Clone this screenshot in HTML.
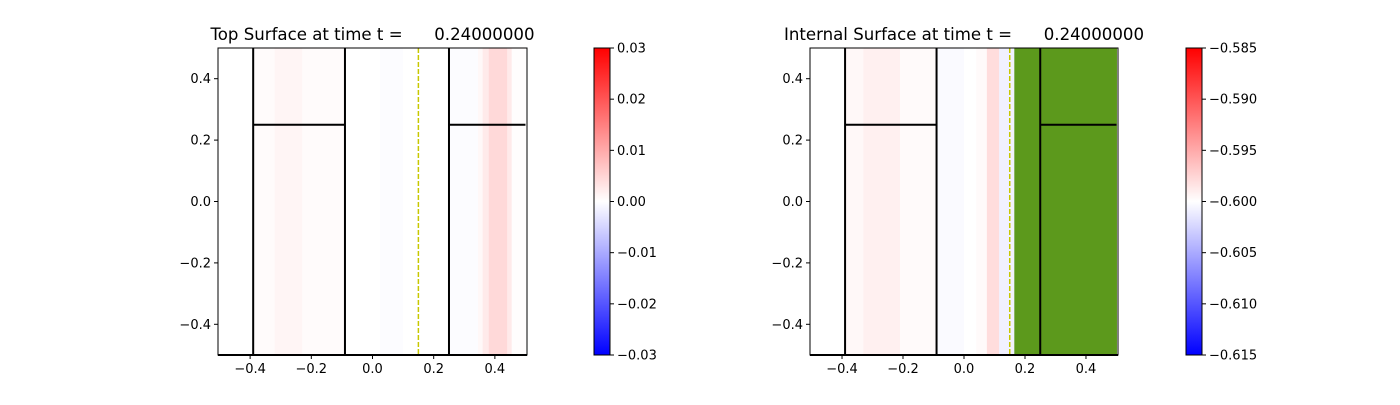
<!DOCTYPE html>
<html><head><meta charset="utf-8"><style>
body{margin:0;background:#fff;width:1400px;height:400px;overflow:hidden}
text{font-family:"DejaVu Sans","Liberation Sans",sans-serif;font-size:13px;fill:#000}
</style></head><body>
<svg id="chart" width="1400" height="400" xmlns="http://www.w3.org/2000/svg">
<defs>
<linearGradient id="bwr" x1="0" y1="1" x2="0" y2="0">
<stop offset="0" stop-color="#0000ff"/><stop offset="0.5" stop-color="#ffffff"/><stop offset="1" stop-color="#ff0000"/>
</linearGradient>
</defs>
</svg>
<script>
const xTicks=[-0.4,-0.2,0.0,0.2,0.4];
const yTicks=[0.4,0.2,0.0,-0.2,-0.4];
// strip boundaries (x) and values for each panel
const leftEdges=[-0.5,-0.39,-0.32,-0.23,-0.09,0.025,0.10,0.25,0.345,0.36,0.38,0.44,0.455,0.5];
const leftVals=[0,0.0005,0.0012,0.0005,0,-0.0004,0,-0.0003,0.0008,0.0025,0.0045,0.0025,0.0002];
const rightEdges=[-0.5,-0.39,-0.33,-0.21,-0.09,0.0,0.04,0.075,0.115,0.165,0.5];
const rightVals=[-0.6,-0.5996,-0.5991,-0.5997,-0.6003,-0.6,-0.5997,-0.5980,-0.6008,null];
const leftCb=[0.03,0.02,0.01,0.00,-0.01,-0.02,-0.03];
const rightCb=[-0.585,-0.590,-0.595,-0.600,-0.605,-0.610,-0.615];
const svg=document.getElementById('chart');
const NS='http://www.w3.org/2000/svg';
function mk(tag,attrs,parent){const e=document.createElementNS(NS,tag);for(const k in attrs)e.setAttribute(k,attrs[k]);(parent||svg).appendChild(e);return e;}
function fmt(v,d){return (v<0?'\u2212':'')+Math.abs(v).toFixed(d);}
function bwr(v,vmin,vmax){let t=(v-vmin)/(vmax-vmin);t=Math.max(0,Math.min(1,t));
 if(t>=0.5){const c=Math.round(255*(1-(t-0.5)*2));return `rgb(255,${c},${c})`;}
 const c=Math.round(255*t*2);return `rgb(${c},${c},255)`;}
function panel(x0,x1,y0,y1,edges,vals,vmin,vmax,title,name,cbx,cbTicks,cbDec){
 const sx2=v=>x0+(v+0.505)/1.01*(x1-x0);
 const sy=v=>y0+(0.5-v)/1.0*(y1-y0);
 const g=mk('g',{});
 
 
 for(let i=0;i<vals.length;i++){
  const a=sx2(edges[i]),b=sx2(edges[i+1]);
  const fill=vals[i]===null?'#5c991c':bwr(vals[i],vmin,vmax);
  const r=mk('rect',{x:a,y:y0,width:b-a+0.5,height:y1-y0,fill:fill},g);
  
  
 }
 const L=[[-0.39,0.5,-0.39,-0.5],[-0.09,0.5,-0.09,-0.5],[0.25,0.5,0.25,-0.5],[-0.39,0.25,-0.09,0.25],[0.25,0.25,0.5,0.25]];
 L.forEach(l=>{const e=mk('line',{x1:sx2(l[0]),y1:sy(l[1]),x2:sx2(l[2]),y2:sy(l[3]),stroke:'#000','stroke-width':2},g);
  });
 const d=mk('line',{x1:sx2(0.15),y1:y0,x2:sx2(0.15),y2:y1,stroke:'#c8c800','stroke-width':1.5,'stroke-dasharray':'5,2'},g);
 
 const fr=mk('rect',{x:x0,y:y0,width:x1-x0,height:y1-y0,fill:'none',stroke:'#000','stroke-width':1},g);
 
 mk('line',{x1:x0,y1:y1,x2:x1,y2:y1,stroke:'#000','stroke-width':2},g);
 xTicks.forEach(v=>{const x=sx2(v);mk('line',{x1:x,y1:y1,x2:x,y2:y1+4,stroke:'#000'},g);
  const t=mk('text',{x:x,y:y1+18,'text-anchor':'middle'},g);t.textContent=fmt(v,1);
  });
 yTicks.forEach(v=>{const y=sy(v);mk('line',{x1:x0-4,y1:y,x2:x0,y2:y,stroke:'#000'},g);
  const t=mk('text',{x:x0-7,y:y+4.5,'text-anchor':'end'},g);t.textContent=fmt(v,1);
  });
 const tt=mk('text',{x:(x0+x1)/2,y:y0-8,'text-anchor':'middle'},g);
 tt.setAttribute('style','font-size:16.6px;white-space:pre');tt.textContent=title;
 
 const cb=mk('rect',{x:cbx,y:y0,width:16,height:y1-y0,fill:'url(#bwr)',stroke:'#000','stroke-width':1},g);
 
 cbTicks.forEach(v=>{const y=y0+(vmax-v)/(vmax-vmin)*(y1-y0);
  mk('line',{x1:cbx+16,y1:y,x2:cbx+20,y2:y,stroke:'#000'},g);
  const t=mk('text',{x:cbx+23,y:y+4.5},g);t.textContent=fmt(v,cbDec);
  });
}
panel(218,527,48,355,leftEdges,leftVals,-0.03,0.03,'Top Surface at time t =      0.24000000','top-surface-panel',594,leftCb,2);
panel(810,1118,48,355,rightEdges,rightVals,-0.615,-0.585,'Internal Surface at time t =      0.24000000','internal-surface-panel',1186,rightCb,3);
</script>
</body></html>
